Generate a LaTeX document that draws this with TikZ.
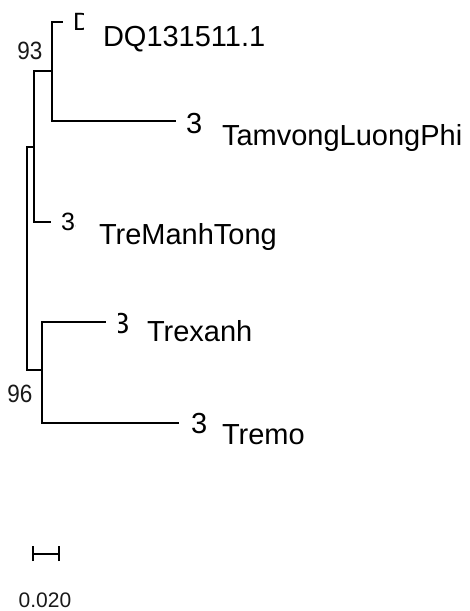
\documentclass[tikz,border=0pt]{standalone}
\usepackage{fontspec}
\setmainfont{Liberation Sans}
\begin{document}
\begin{tikzpicture}[x=1pt,y=-1pt,
  branch/.style={draw=black, line width=2.3pt, line cap=rect, line join=miter},
  lbl/.style={inner sep=0pt, outer sep=0pt, anchor=base west, font=\fontsize{29}{29}\selectfont, text=black},
  tipbig/.style={inner sep=0pt, outer sep=0pt, anchor=base west, font=\fontsize{29}{29}\selectfont, text=black},
  tipsmall/.style={inner sep=0pt, outer sep=0pt, anchor=base west, font=\fontsize{25}{25}\selectfont, text=black},
  boot/.style={inner sep=0pt, outer sep=0pt, font=\fontsize{25}{25}\selectfont, text=black!90, xscale=0.9},
  scalelbl/.style={inner sep=0pt, outer sep=0pt, font=\fontsize{21}{21}\selectfont, text=black!90}]
\useasboundingbox (0,0) rectangle (470,611);

% tree nodes (internal) and leaf ends
\coordinate (rootA) at (27,147);
\coordinate (rootC) at (27,370);
\coordinate (A) at (34,147);
\coordinate (Atop) at (34,71);
\coordinate (Abot) at (34,222);
\coordinate (B) at (52,71);
\coordinate (Btop) at (52,22);
\coordinate (Bbot) at (52,121);
\coordinate (C) at (42,370);
\coordinate (Ctop) at (42,322);
\coordinate (Cbot) at (42,423);
\coordinate (tDQ) at (62,22);
\coordinate (tTam) at (175,121);
\coordinate (tMan) at (50,222);
\coordinate (tXan) at (105,322);
\coordinate (tMo) at (178,423);

% branches
\draw[branch] (A) -- (rootA) -- (rootC) -- (C);
\draw[branch] (B) -- (Atop) -- (Abot) -- (tMan);
\draw[branch] (tDQ) -- (Btop) -- (Bbot) -- (tTam);
\draw[branch] (tXan) -- (Ctop) -- (Cbot) -- (tMo);

% bootstrap values
\node[boot] (b93) at (30,51) {93};
\node[boot] (b96) at (20,394) {96};

% truncated tip glyphs
\begin{scope}
  \clip (70,5) rectangle (83.5,35);
  \node[tipsmall] (fDQ) at (73,30) {D};
\end{scope}
\node[tipbig] (fTam) at (186,133) {3};
\begin{scope}
  \clip (55,200) rectangle (75,240);
  \node[tipsmall] (fMan) at (61,230) {33};
\end{scope}
\begin{scope}
  \clip (118,300) rectangle (135,340);
  \node[tipbig] (fXan) at (113,333) {3};
\end{scope}
\node[tipbig] (fMo) at (191,433) {3};

% leaf labels
\node[lbl] (lDQ) at (103,46) {DQ131511.1};
\node[lbl] (lTam) at (222,145) {TamvongLuongPhi};
\node[lbl] (lMan) at (99,244) {TreManhTong};
\node[lbl] (lXan) at (147,341) {Trexanh};
\node[lbl] (lMo) at (222,444) {Tremo};

% scale bar
\coordinate (sL) at (33,554);
\coordinate (sR) at (59,554);
\draw[line width=2.3pt, black] (sL) -- (sR);
\draw[line width=2.3pt, black] ([yshift=-7pt]sL) -- ([yshift=8pt]sL);
\draw[line width=2.3pt, black] ([yshift=-7pt]sR) -- ([yshift=8pt]sR);
\node[scalelbl] (sc) at (45,600) {0.020};
\end{tikzpicture}
\end{document}
